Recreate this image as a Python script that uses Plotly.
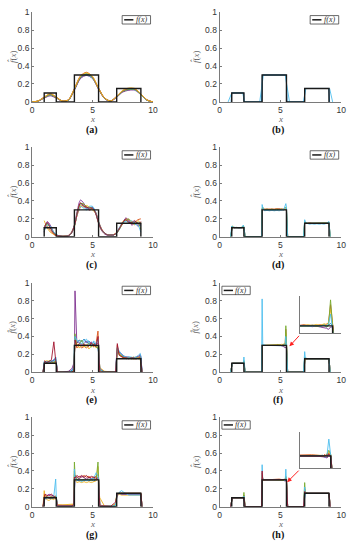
import plotly.graph_objects as go

BLUE, ORANGE, YELLOW, PURPLE, GREEN, CYAN, RED = (
    "#0072BD", "#D95319", "#EDB120", "#7E2F8E", "#77AC30", "#4DBEEE", "#A2142F")

# ---------------- true function f(x) ----------------
F_X = [1, 1, 2, 2, 3.5, 3.5, 5.5, 5.5, 7, 7, 9, 9]
F_Y = [0, 0.1, 0.1, 0, 0, 0.3, 0.3, 0, 0, 0.15, 0.15, 0]

X_TICKS = [0, 5, 10]
X_TICKTEXT = ["0", "5", "10"]
Y_TICKS = [0, 0.2, 0.4, 0.6, 0.8, 1]
Y_TICKTEXT = ["0", "0.2", "0.4", "0.6", "0.8", "1"]
PANEL_LABELS = ["(a)", "(b)", "(c)", "(d)", "(e)", "(f)", "(g)", "(h)"]

# ---------------- panel (a) ----------------
XA = [0, 0.5, 1, 1.5, 2, 2.5, 3, 3.5, 4, 4.5, 5, 5.5, 6, 6.5, 7, 7.5, 8, 8.5, 9, 9.5, 10]
A_BLUE = [0, 0.01, 0.05, 0.085, 0.05, 0.01, 0.02, 0.14, 0.27, 0.31, 0.27, 0.15, 0.04, 0.01, 0.06, 0.12, 0.145, 0.14, 0.085, 0.02, 0]
A_ORANGE = [0, 0.012, 0.055, 0.09, 0.055, 0.012, 0.025, 0.15, 0.29, 0.33, 0.28, 0.155, 0.045, 0.012, 0.065, 0.125, 0.15, 0.145, 0.09, 0.025, 0]
A_YELLOW = [0, 0.011, 0.052, 0.095, 0.052, 0.01, 0.022, 0.145, 0.285, 0.325, 0.285, 0.15, 0.042, 0.01, 0.06, 0.13, 0.155, 0.15, 0.09, 0.022, 0]
A_PURPLE = [0, 0.008, 0.042, 0.068, 0.042, 0.008, 0.018, 0.13, 0.26, 0.295, 0.26, 0.14, 0.036, 0.008, 0.052, 0.11, 0.13, 0.13, 0.08, 0.018, 0]
A_GREEN = [0, 0.01, 0.048, 0.08, 0.048, 0.01, 0.02, 0.14, 0.275, 0.315, 0.27, 0.148, 0.04, 0.01, 0.058, 0.118, 0.14, 0.138, 0.084, 0.02, 0]
A_CYAN = [0, 0.01, 0.05, 0.078, 0.05, 0.012, 0.022, 0.142, 0.28, 0.3, 0.265, 0.152, 0.042, 0.012, 0.06, 0.12, 0.138, 0.135, 0.082, 0.021, 0]
A_RED = [0, 0.009, 0.046, 0.075, 0.046, 0.009, 0.02, 0.135, 0.27, 0.305, 0.268, 0.145, 0.038, 0.009, 0.055, 0.115, 0.135, 0.14, 0.086, 0.02, 0]

# ---------------- panel (b) ----------------
XB = [0.7, 1.0, 1.9, 2.05, 3.3, 3.6, 5.4, 5.75, 6.9, 7.1, 9.05, 9.3]
B_CYAN = [0, 0.1, 0.1, 0, 0, 0.3, 0.3, 0, 0, 0.15, 0.15, 0]
XB2 = [0.95, 1.0, 1.98, 2.02, 3.45, 3.52, 5.48, 5.55, 6.95, 7.02, 8.98, 9.05]
B_BLUE = [0, 0.1, 0.1, 0, 0, 0.3, 0.3, 0, 0, 0.15, 0.15, 0]

# ---------------- panel (c) ----------------
XC = [1.0, 1.25, 1.5, 1.75, 2.0, 2.25, 2.5, 2.75, 3.0, 3.25, 3.5, 3.75, 4.0, 4.25, 4.5, 4.75, 5.0,
      5.25, 5.5, 5.75, 6.0, 6.25, 6.5, 6.75, 7.0, 7.25, 7.5, 7.75, 8.0, 8.25, 8.5, 8.75, 9.0]
C_BLUE = [0.08, 0.15, 0.11, 0.05, 0.02, 0.01, 0.005, 0.005, 0.01, 0.04, 0.12, 0.27, 0.37, 0.35, 0.31, 0.32, 0.33,
          0.27, 0.16, 0.08, 0.04, 0.02, 0.02, 0.02, 0.04, 0.09, 0.16, 0.19, 0.17, 0.15, 0.17, 0.15, 0.12]
C_ORANGE = [0.1, 0.12, 0.07, 0.03, 0.01, 0.005, 0.005, 0.01, 0.015, 0.05, 0.13, 0.25, 0.33, 0.36, 0.34, 0.3, 0.31,
            0.28, 0.17, 0.09, 0.04, 0.02, 0.015, 0.02, 0.05, 0.1, 0.14, 0.2, 0.19, 0.14, 0.16, 0.19, 0.2]
C_YELLOW = [0.18, 0.1, 0.05, 0.03, 0.015, 0.01, 0.005, 0.005, 0.012, 0.045, 0.11, 0.26, 0.35, 0.33, 0.35, 0.33, 0.3,
            0.26, 0.15, 0.07, 0.035, 0.02, 0.02, 0.025, 0.05, 0.1, 0.17, 0.2, 0.15, 0.17, 0.13, 0.18, 0.15]
C_PURPLE = [0.05, 0.17, 0.13, 0.06, 0.02, 0.01, 0.005, 0.005, 0.01, 0.04, 0.13, 0.3, 0.41, 0.38, 0.32, 0.3, 0.32,
            0.26, 0.15, 0.07, 0.03, 0.015, 0.015, 0.02, 0.045, 0.1, 0.15, 0.21, 0.18, 0.13, 0.15, 0.12, 0.14]
C_GREEN = [0.12, 0.14, 0.1, 0.05, 0.02, 0.01, 0.005, 0.005, 0.01, 0.04, 0.12, 0.28, 0.37, 0.37, 0.33, 0.33, 0.31,
           0.27, 0.16, 0.08, 0.04, 0.02, 0.02, 0.02, 0.04, 0.09, 0.15, 0.18, 0.2, 0.16, 0.14, 0.16, 0.08]
C_CYAN = [0.06, 0.13, 0.12, 0.06, 0.025, 0.01, 0.005, 0.005, 0.012, 0.045, 0.12, 0.26, 0.34, 0.32, 0.3, 0.34, 0.34,
          0.28, 0.17, 0.08, 0.04, 0.02, 0.02, 0.02, 0.05, 0.11, 0.16, 0.17, 0.16, 0.18, 0.14, 0.13, 0.05]
C_RED = [0.1, 0.16, 0.1, 0.04, 0.015, 0.01, 0.005, 0.005, 0.01, 0.04, 0.12, 0.27, 0.38, 0.34, 0.33, 0.32, 0.32,
         0.27, 0.16, 0.08, 0.04, 0.02, 0.02, 0.02, 0.045, 0.1, 0.16, 0.19, 0.16, 0.16, 0.18, 0.14, 0.17]

# ---------------- sample grid for panels (d), (e), (g) ----------------
SG = [0.9, 1.0, 1.05, 1.2, 1.4, 1.6, 1.8, 1.95, 2.0, 2.1,
      2.5, 3.0, 3.3, 3.45, 3.5, 3.55, 3.7, 3.9, 4.1, 4.3,
      4.5, 4.7, 4.9, 5.1, 5.3, 5.45, 5.5, 5.6, 6.0, 6.5,
      6.9, 7.0, 7.05, 7.2, 7.4, 7.6, 7.8, 8.0, 8.2, 8.4,
      8.6, 8.8, 8.95, 9.0, 9.1]

D_BLUE = [0, 0.10, 0.10, 0.105, 0.10, 0.10, 0.10, 0.11, 0.10, 0,
          0, 0, 0, 0, 0.30, 0.31, 0.30, 0.30, 0.305, 0.30,
          0.30, 0.30, 0.31, 0.30, 0.30, 0.31, 0.30, 0, 0, 0,
          0, 0.15, 0.16, 0.15, 0.15, 0.15, 0.155, 0.15, 0.15, 0.15,
          0.155, 0.15, 0.15, 0.15, 0]
D_ORANGE = [0, 0.10, 0.11, 0.10, 0.10, 0.105, 0.10, 0.10, 0.11, 0,
            0, 0, 0, 0, 0.31, 0.32, 0.31, 0.31, 0.305, 0.31,
            0.31, 0.315, 0.31, 0.31, 0.31, 0.30, 0.31, 0, 0, 0,
            0, 0.16, 0.15, 0.15, 0.155, 0.15, 0.15, 0.155, 0.15, 0.155,
            0.15, 0.155, 0.155, 0.15, 0]
D_GREEN = [0, 0.11, 0.12, 0.10, 0.105, 0.10, 0.105, 0.12, 0.10, 0,
           0, 0, 0, 0, 0.32, 0.33, 0.30, 0.31, 0.30, 0.31,
           0.30, 0.31, 0.30, 0.31, 0.30, 0.33, 0.32, 0, 0, 0,
           0, 0.17, 0.16, 0.15, 0.15, 0.155, 0.15, 0.15, 0.155, 0.15,
           0.15, 0.155, 0.16, 0.16, 0]
D_CYAN = [0, 0.12, 0.11, 0.10, 0.10, 0.10, 0.10, 0.13, 0.11, 0,
          0, 0, 0, 0, 0.36, 0.33, 0.29, 0.295, 0.29, 0.295,
          0.29, 0.295, 0.29, 0.30, 0.31, 0.37, 0.33, 0, 0, 0,
          0, 0.19, 0.17, 0.15, 0.14, 0.145, 0.14, 0.145, 0.14, 0.145,
          0.14, 0.15, 0.16, 0.17, 0]

E_BLUE = [0, 0.09, 0.11, 0.12, 0.11, 0.12, 0.13, 0.17, 0.12, 0,
          0, 0, 0.02, 0.06, 0.2, 0.3, 0.33, 0.36, 0.34, 0.37,
          0.33, 0.35, 0.31, 0.33, 0.3, 0.26, 0.22, 0.03, 0, 0,
          0, 0.17, 0.26, 0.22, 0.19, 0.17, 0.16, 0.16, 0.15, 0.16,
          0.16, 0.17, 0.19, 0.16, 0]
E_ORANGE = [0, 0.1, 0.13, 0.1, 0.12, 0.13, 0.11, 0.12, 0.1, 0,
            0, 0, 0, 0.01, 0.25, 0.38, 0.27, 0.3, 0.27, 0.29,
            0.27, 0.3, 0.33, 0.28, 0.33, 0.46, 0.35, 0.02, 0, 0,
            0, 0.18, 0.3, 0.2, 0.17, 0.16, 0.17, 0.15, 0.16, 0.15,
            0.15, 0.16, 0.18, 0.12, 0]
E_YELLOW = [0, 0.08, 0.1, 0.13, 0.12, 0.1, 0.12, 0.11, 0.09, 0,
            0, 0, 0, 0.02, 0.28, 0.35, 0.32, 0.27, 0.3, 0.28,
            0.31, 0.26, 0.29, 0.32, 0.27, 0.3, 0.25, 0.05, 0.01, 0,
            0, 0.14, 0.24, 0.21, 0.18, 0.16, 0.16, 0.16, 0.15, 0.15,
            0.16, 0.16, 0.14, 0.09, 0]
E_PURPLE = [0, 0.11, 0.12, 0.11, 0.1, 0.12, 0.14, 0.13, 0.11, 0,
            0, 0.01, 0.04, 0.1, 0.15, 0.91, 0.33, 0.34, 0.31, 0.32,
            0.35, 0.31, 0.34, 0.3, 0.33, 0.32, 0.28, 0.04, 0, 0,
            0, 0.2, 0.22, 0.23, 0.2, 0.18, 0.17, 0.17, 0.16, 0.16,
            0.17, 0.18, 0.2, 0.17, 0]
E_GREEN = [0, 0.1, 0.12, 0.1, 0.13, 0.11, 0.1, 0.14, 0.1, 0,
           0, 0, 0.01, 0.03, 0.22, 0.43, 0.3, 0.31, 0.36, 0.3,
           0.29, 0.33, 0.28, 0.31, 0.28, 0.27, 0.3, 0.03, 0, 0,
           0, 0.15, 0.27, 0.2, 0.18, 0.17, 0.15, 0.16, 0.16, 0.17,
           0.16, 0.15, 0.17, 0.13, 0]
E_CYAN = [0, 0.12, 0.1, 0.12, 0.11, 0.13, 0.12, 0.15, 0.12, 0,
          0, 0, 0.01, 0.05, 0.3, 0.4, 0.36, 0.33, 0.32, 0.35,
          0.37, 0.32, 0.3, 0.35, 0.31, 0.37, 0.3, 0.03, 0, 0,
          0, 0.19, 0.28, 0.24, 0.2, 0.18, 0.17, 0.17, 0.17, 0.16,
          0.17, 0.19, 0.21, 0.18, 0]
E_RED = [0, 0.09, 0.12, 0.11, 0.12, 0.14, 0.34, 0.13, 0.1, 0,
         0, 0, 0, 0.02, 0.27, 0.36, 0.29, 0.32, 0.29, 0.31,
         0.3, 0.29, 0.32, 0.3, 0.29, 0.4, 0.3, 0, 0, 0,
         0, 0.16, 0.32, 0.19, 0.17, 0.16, 0.16, 0.15, 0.16, 0.16,
         0.15, 0.16, 0.16, 0.12, 0]

G_BLUE = [0, 0.07, 0.09, 0.11, 0.1, 0.09, 0.1, 0.11, 0.09, 0.01,
          0.01, 0.01, 0.01, 0.02, 0.3, 0.33, 0.3, 0.29, 0.3, 0.29,
          0.3, 0.29, 0.3, 0.29, 0.3, 0.31, 0.3, 0.01, 0.005, 0.005,
          0.01, 0.12, 0.13, 0.14, 0.14, 0.14, 0.14, 0.14, 0.14, 0.14,
          0.14, 0.14, 0.14, 0.14, 0]
G_ORANGE = [0, 0.1, 0.13, 0.12, 0.09, 0.12, 0.1, 0.12, 0.1, 0.02,
            0.015, 0.015, 0.02, 0.025, 0.36, 0.34, 0.32, 0.34, 0.33, 0.35,
            0.33, 0.34, 0.32, 0.33, 0.34, 0.36, 0.32, 0.02, 0.005, 0.005,
            0.02, 0.13, 0.14, 0.15, 0.15, 0.15, 0.15, 0.15, 0.15, 0.15,
            0.15, 0.15, 0.15, 0.15, 0]
G_YELLOW = [0, 0.18, 0.14, 0.08, 0.07, 0.09, 0.08, 0.1, 0.08, 0.02,
            0.02, 0.025, 0.03, 0.03, 0.4, 0.3, 0.27, 0.28, 0.27, 0.28,
            0.27, 0.28, 0.27, 0.28, 0.29, 0.45, 0.2, 0.1, 0.005, 0.005,
            0.03, 0.1, 0.12, 0.14, 0.13, 0.13, 0.13, 0.13, 0.13, 0.13,
            0.13, 0.13, 0.13, 0.13, 0]
G_PURPLE = [0, 0.05, 0.08, 0.12, 0.14, 0.13, 0.12, 0.11, 0.1, 0.01,
            0.01, 0.01, 0.01, 0.02, 0.32, 0.35, 0.33, 0.31, 0.34, 0.32,
            0.31, 0.33, 0.31, 0.32, 0.3, 0.33, 0.31, 0.01, 0.005, 0.005,
            0.01, 0.13, 0.14, 0.15, 0.14, 0.14, 0.14, 0.14, 0.14, 0.14,
            0.14, 0.14, 0.14, 0.14, 0]
G_GREEN = [0, 0.09, 0.1, 0.11, 0.1, 0.11, 0.1, 0.12, 0.11, 0.01,
           0.01, 0.01, 0.01, 0.02, 0.5, 0.36, 0.3, 0.31, 0.29, 0.31,
           0.3, 0.31, 0.29, 0.31, 0.3, 0.5, 0.36, 0.01, 0.005, 0.005,
           0.01, 0.14, 0.15, 0.15, 0.15, 0.15, 0.15, 0.15, 0.15, 0.15,
           0.15, 0.15, 0.15, 0.15, 0]
G_CYAN = [0, 0.08, 0.1, 0.09, 0.11, 0.1, 0.12, 0.31, 0.12, 0.01,
          0.01, 0.01, 0.01, 0.02, 0.42, 0.33, 0.29, 0.3, 0.28, 0.3,
          0.29, 0.3, 0.31, 0.32, 0.38, 0.34, 0.3, 0.01, 0.005, 0.005,
          0.01, 0.1, 0.13, 0.16, 0.18, 0.16, 0.14, 0.13, 0.13, 0.13,
          0.13, 0.13, 0.13, 0.13, 0]
G_RED = [0, 0.12, 0.14, 0.13, 0.12, 0.14, 0.12, 0.1, 0.09, 0.01,
         0.01, 0.01, 0.01, 0.02, 0.33, 0.32, 0.35, 0.33, 0.35, 0.33,
         0.35, 0.32, 0.34, 0.33, 0.32, 0.3, 0.3, 0.01, 0.005, 0.005,
         0.05, 0.14, 0.14, 0.15, 0.15, 0.15, 0.15, 0.15, 0.15, 0.15,
         0.15, 0.15, 0.15, 0.15, 0]

# ---------------- finer grid for panels (f), (h) ----------------
FG = [0.9, 1.0, 1.05, 1.3, 1.6, 1.9, 1.97, 2.0, 2.1,
      3.0, 3.45, 3.5, 3.55, 3.8, 4.1, 4.4, 4.6, 4.7, 4.8, 4.9, 5.0, 5.1, 5.2, 5.3, 5.35, 5.4, 5.45, 5.5, 5.6,
      6.9, 7.0, 7.05, 7.3, 7.6, 7.9, 8.2, 8.5, 8.8, 8.95, 9.0, 9.1]

F_BLUE = [0, 0.10, 0.10, 0.10, 0.10, 0.10, 0.105, 0.10, 0,
          0, 0, 0.30, 0.30, 0.30, 0.30, 0.30, 0.30, 0.302, 0.298, 0.303, 0.299, 0.304, 0.297, 0.306, 0.292, 0.31, 0.32, 0.30, 0,
          0, 0.15, 0.15, 0.15, 0.15, 0.15, 0.15, 0.15, 0.15, 0.15, 0.15, 0]
F_ORANGE = [0, 0.10, 0.10, 0.10, 0.10, 0.10, 0.11, 0.12, 0,
            0, 0, 0.31, 0.30, 0.30, 0.30, 0.30, 0.30, 0.305, 0.31, 0.30, 0.306, 0.30, 0.31, 0.30, 0.315, 0.325, 0.48, 0.30, 0,
            0, 0.16, 0.15, 0.15, 0.15, 0.15, 0.15, 0.15, 0.15, 0.15, 0.15, 0]
F_YELLOW = [0, 0.10, 0.10, 0.10, 0.10, 0.10, 0.10, 0.10, 0,
            0, 0, 0.30, 0.30, 0.30, 0.30, 0.30, 0.30, 0.298, 0.305, 0.31, 0.303, 0.312, 0.305, 0.318, 0.31, 0.33, 0.44, 0.31, 0,
            0, 0.15, 0.15, 0.15, 0.15, 0.15, 0.15, 0.15, 0.15, 0.15, 0.15, 0]
F_PURPLE = [0, 0.10, 0.10, 0.10, 0.10, 0.10, 0.10, 0.10, 0,
            0, 0, 0.30, 0.30, 0.30, 0.30, 0.30, 0.30, 0.30, 0.296, 0.30, 0.293, 0.298, 0.29, 0.285, 0.28, 0.27, 0.29, 0.29, 0,
            0, 0.15, 0.15, 0.15, 0.15, 0.15, 0.15, 0.15, 0.15, 0.15, 0.15, 0]
F_GREEN = [0, 0.10, 0.10, 0.10, 0.10, 0.10, 0.10, 0.13, 0,
           0, 0, 0.30, 0.30, 0.30, 0.30, 0.30, 0.30, 0.30, 0.302, 0.297, 0.305, 0.295, 0.30, 0.31, 0.29, 0.30, 0.52, 0.30, 0,
           0, 0.17, 0.15, 0.15, 0.15, 0.15, 0.15, 0.15, 0.15, 0.15, 0.15, 0]
F_CYAN = [0, 0.10, 0.10, 0.10, 0.10, 0.10, 0.12, 0.17, 0,
          0, 0, 0.82, 0.31, 0.30, 0.30, 0.30, 0.30, 0.30, 0.303, 0.30, 0.296, 0.303, 0.298, 0.305, 0.30, 0.32, 0.40, 0.30, 0,
          0, 0.23, 0.16, 0.15, 0.15, 0.15, 0.15, 0.15, 0.15, 0.15, 0.15, 0]

H_BLUE = [0, 0.10, 0.10, 0.10, 0.10, 0.10, 0.10, 0.10, 0,
          0, 0, 0.31, 0.30, 0.30, 0.30, 0.30, 0.30, 0.30, 0.302, 0.30, 0.298, 0.30, 0.302, 0.297, 0.305, 0.29, 0.31, 0.30, 0,
          0, 0.15, 0.15, 0.15, 0.15, 0.15, 0.15, 0.15, 0.15, 0.15, 0.15, 0]
H_ORANGE = [0, 0.10, 0.10, 0.10, 0.10, 0.10, 0.11, 0.13, 0,
            0, 0, 0.38, 0.31, 0.30, 0.30, 0.30, 0.302, 0.306, 0.308, 0.309, 0.308, 0.306, 0.303, 0.30, 0.31, 0.29, 0.32, 0.30, 0,
            0, 0.20, 0.16, 0.15, 0.15, 0.15, 0.15, 0.15, 0.15, 0.15, 0.15, 0]
H_YELLOW = [0, 0.10, 0.10, 0.10, 0.10, 0.10, 0.10, 0.11, 0,
            0, 0, 0.33, 0.30, 0.30, 0.30, 0.30, 0.30, 0.30, 0.299, 0.302, 0.30, 0.303, 0.299, 0.304, 0.296, 0.312, 0.33, 0.30, 0,
            0, 0.18, 0.15, 0.15, 0.15, 0.15, 0.15, 0.15, 0.15, 0.15, 0.15, 0]
H_PURPLE = [0, 0.10, 0.10, 0.10, 0.10, 0.10, 0.10, 0.10, 0,
            0, 0, 0.32, 0.30, 0.30, 0.30, 0.30, 0.30, 0.30, 0.298, 0.30, 0.297, 0.299, 0.296, 0.293, 0.29, 0.285, 0.30, 0.29, 0,
            0, 0.16, 0.15, 0.15, 0.15, 0.15, 0.15, 0.15, 0.15, 0.15, 0.15, 0]
H_GREEN = [0, 0.10, 0.10, 0.10, 0.10, 0.10, 0.12, 0.16, 0,
           0, 0, 0.35, 0.30, 0.30, 0.30, 0.30, 0.30, 0.30, 0.298, 0.296, 0.298, 0.30, 0.302, 0.30, 0.295, 0.31, 0.34, 0.31, 0,
           0, 0.27, 0.16, 0.15, 0.15, 0.15, 0.15, 0.15, 0.15, 0.15, 0.15, 0]
H_CYAN = [0, 0.10, 0.10, 0.10, 0.10, 0.10, 0.10, 0.12, 0,
          0, 0, 0.47, 0.31, 0.30, 0.30, 0.30, 0.30, 0.30, 0.30, 0.302, 0.30, 0.298, 0.30, 0.305, 0.29, 0.30, 0.42, 0.30, 0,
          0, 0.22, 0.15, 0.15, 0.15, 0.15, 0.15, 0.15, 0.15, 0.15, 0.15, 0]
H_RED = [0, 0.10, 0.10, 0.10, 0.10, 0.10, 0.10, 0.10, 0,
         0, 0, 0.40, 0.30, 0.30, 0.30, 0.30, 0.30, 0.30, 0.30, 0.30, 0.301, 0.30, 0.30, 0.302, 0.298, 0.305, 0.31, 0.30, 0,
         0, 0.17, 0.15, 0.15, 0.15, 0.15, 0.15, 0.15, 0.15, 0.15, 0.15, 0]

INSET_F_XRANGE = [4.7, 5.71]
INSET_F_YRANGE = [0.24, 0.55]
INSET_H_XRANGE = [4.7, 5.77]
INSET_H_YRANGE = [0.21, 0.47]

# ---------------- panels ----------------
PANELS = [
    ("spline", [(RED, XA, A_RED), (BLUE, XA, A_BLUE), (PURPLE, XA, A_PURPLE), (CYAN, XA, A_CYAN),
                (GREEN, XA, A_GREEN), (ORANGE, XA, A_ORANGE), (YELLOW, XA, A_YELLOW)]),
    ("linear", [(BLUE, XB2, B_BLUE), (CYAN, XB, B_CYAN)]),
    ("spline", [(BLUE, XC, C_BLUE), (ORANGE, XC, C_ORANGE), (YELLOW, XC, C_YELLOW), (PURPLE, XC, C_PURPLE),
                (GREEN, XC, C_GREEN), (CYAN, XC, C_CYAN), (RED, XC, C_RED)]),
    ("linear", [(BLUE, SG, D_BLUE), (ORANGE, SG, D_ORANGE), (GREEN, SG, D_GREEN), (CYAN, SG, D_CYAN)]),
    ("linear", [(BLUE, SG, E_BLUE), (ORANGE, SG, E_ORANGE), (YELLOW, SG, E_YELLOW), (PURPLE, SG, E_PURPLE),
                (GREEN, SG, E_GREEN), (CYAN, SG, E_CYAN), (RED, SG, E_RED)]),
    ("linear", [(BLUE, FG, F_BLUE), (ORANGE, FG, F_ORANGE), (YELLOW, FG, F_YELLOW), (PURPLE, FG, F_PURPLE),
                (GREEN, FG, F_GREEN), (CYAN, FG, F_CYAN)]),
    ("linear", [(BLUE, SG, G_BLUE), (ORANGE, SG, G_ORANGE), (YELLOW, SG, G_YELLOW), (PURPLE, SG, G_PURPLE),
                (GREEN, SG, G_GREEN), (CYAN, SG, G_CYAN), (RED, SG, G_RED)]),
    ("linear", [(BLUE, FG, H_BLUE), (ORANGE, FG, H_ORANGE), (YELLOW, FG, H_YELLOW), (PURPLE, FG, H_PURPLE),
                (GREEN, FG, H_GREEN), (CYAN, FG, H_CYAN), (RED, FG, H_RED)]),
]

COLS = [[0.087, 0.4363], [0.6289, 0.9802]]
ROWS = [[0.8205, 0.9867], [0.5709, 0.7364], [0.3200, 0.4855], [0.0709, 0.2364]]
AXIS_GRAY = "#7a7a7a"
TICK_FONT = dict(family="Liberation Sans, Arial", size=8.5, color="#333333")
SERIF = "Liberation Serif, Times New Roman, serif"

fig = go.Figure()
layout = dict(width=353, height=550, margin=dict(l=0, r=0, t=0, b=0),
              paper_bgcolor="white", plot_bgcolor="rgba(0,0,0,0)", showlegend=False,
              hovermode=False)
shapes, annotations = [], []


def add_curves(curves, shape, ax_id, width=0.9):
    for color, xs, ys in curves:
        fig.add_trace(go.Scatter(x=xs, y=ys, mode="lines", xaxis="x" + ax_id, yaxis="y" + ax_id,
                                 line=dict(color=color, width=width, shape=shape,
                                           smoothing=0.8 if shape == "spline" else None)))
    fig.add_trace(go.Scatter(x=F_X, y=F_Y, mode="lines", xaxis="x" + ax_id, yaxis="y" + ax_id,
                             line=dict(color="#1a1a1a", width=1.4)))


for k, (shape, curves) in enumerate(PANELS):
    n = k + 1
    sid = "" if n == 1 else str(n)
    row, col = k // 2, k % 2
    add_curves(curves, shape, sid)
    layout["xaxis" + sid] = dict(domain=COLS[col], range=[0, 10], anchor="y" + sid,
                                 showline=True, linecolor=AXIS_GRAY, linewidth=1, mirror=False,
                                 ticks="inside", ticklen=2, tickcolor=AXIS_GRAY,
                                 tickvals=X_TICKS, ticktext=X_TICKTEXT, tickfont=TICK_FONT,
                                 showgrid=False, zeroline=False, fixedrange=True)
    layout["yaxis" + sid] = dict(domain=ROWS[row], range=[0, 1], anchor="x" + sid,
                                 showline=True, linecolor=AXIS_GRAY, linewidth=1, mirror=False,
                                 ticks="inside", ticklen=2, tickcolor=AXIS_GRAY,
                                 tickvals=Y_TICKS, ticktext=Y_TICKTEXT, tickfont=TICK_FONT,
                                 showgrid=False, zeroline=False, fixedrange=True)
    xr, yr = "x" + sid + " domain", "y" + sid + " domain"
    # legend box
    if k in (5, 7):
        bx0, bx1, lx0, lx1, tx = 0.019, 0.252, 0.034, 0.11, 0.176
    else:
        bx0, bx1, lx0, lx1, tx = 0.745, 0.98, 0.762, 0.838, 0.907
    shapes.append(dict(type="rect", xref=xr, yref=yr, x0=bx0, x1=bx1, y0=0.868, y1=0.962,
                       line=dict(color="#444444", width=0.8), fillcolor="white", layer="above"))
    shapes.append(dict(type="line", xref=xr, yref=yr, x0=lx0, x1=lx1, y0=0.915, y1=0.915,
                       line=dict(color="#1a1a1a", width=1.5), layer="above"))
    annotations.append(dict(xref=xr, yref=yr, x=tx, y=0.915, text="<i>f(x)</i>", showarrow=False,
                            font=dict(family=SERIF, size=8, color="#333333"),
                            xanchor="center", yanchor="middle"))
    # axis titles and panel labels
    cx = (COLS[col][0] + COLS[col][1]) / 2
    ylab_x = [0.029, 0.558][col]
    annotations.append(dict(xref="paper", yref="paper", x=cx, y=ROWS[row][0] - 0.0325,
                            text="<i>x</i>", showarrow=False, xanchor="center", yanchor="middle",
                            font=dict(family=SERIF, size=9, color="#666666")))
    annotations.append(dict(xref="paper", yref="paper", x=ylab_x, y=(ROWS[row][0] + ROWS[row][1]) / 2,
                            text="<i>f\u0302</i>(<i>x</i>)", showarrow=False, textangle=-90,
                            xanchor="center", yanchor="middle",
                            font=dict(family=SERIF, size=9, color="#666666")))
    annotations.append(dict(xref="paper", yref="paper", x=[0.26, 0.797][col], y=ROWS[row][0] - 0.0515,
                            text="<b>" + PANEL_LABELS[k] + "</b>", showarrow=False,
                            xanchor="center", yanchor="middle",
                            font=dict(family=SERIF, size=10, color="#111111")))

# ---------------- insets for (f) and (h) ----------------
INSETS = [("9", PANELS[5][1], INSET_F_XRANGE, INSET_F_YRANGE, [0.3927, 0.4605], "6", 5.75, 0.29, 11, -12),
          ("10", PANELS[7][1], INSET_H_XRANGE, INSET_H_YRANGE, [0.1418, 0.2091], "8", 5.56, 0.275, 13, -13)]
for sid, curves, xrng, yrng, ydom, host, hx, hy, axo, ayo in INSETS:
    add_curves(curves, "linear", sid, width=0.9)
    layout["xaxis" + sid] = dict(domain=[0.8612, 0.9802], range=xrng, anchor="y" + sid,
                                 showline=True, linecolor=AXIS_GRAY, linewidth=1, ticks="",
                                 showticklabels=False, showgrid=False, zeroline=False, fixedrange=True)
    layout["yaxis" + sid] = dict(domain=ydom, range=yrng, anchor="x" + sid,
                                 showline=True, linecolor=AXIS_GRAY, linewidth=1, ticks="",
                                 showticklabels=False, showgrid=False, zeroline=False, fixedrange=True)
    annotations.append(dict(xref="x" + host, yref="y" + host, x=hx, y=hy, text="", showarrow=True,
                            ax=axo, ay=ayo, arrowcolor="#ff2020", arrowhead=2, arrowsize=0.9,
                            arrowwidth=1))

layout["shapes"] = shapes
layout["annotations"] = annotations
fig.update_layout(**layout)
fig.write_html("out.html", config={"displayModeBar": False},
               post_script="document.body.style.margin='0';")
